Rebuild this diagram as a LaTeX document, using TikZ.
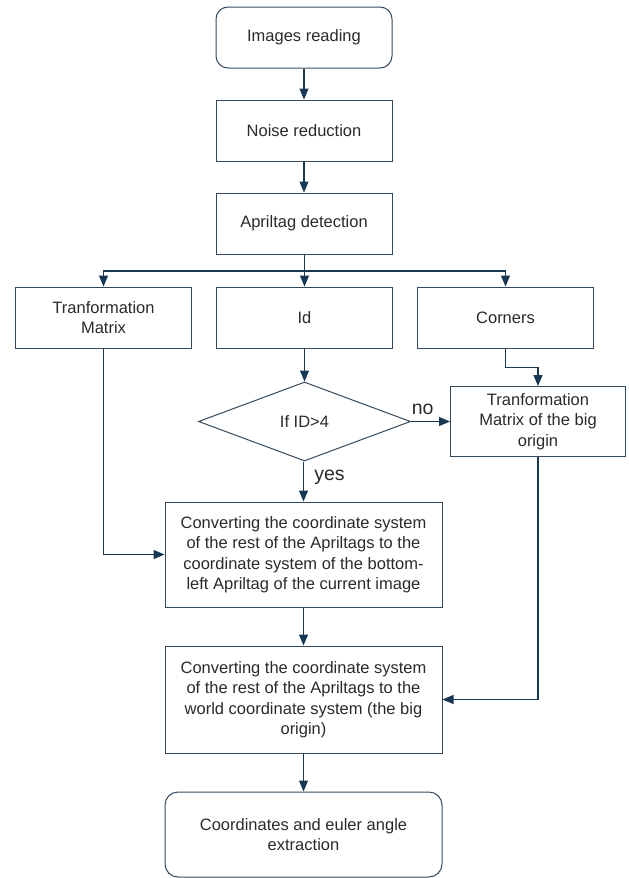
\documentclass[tikz,border=0pt]{standalone}
\usepackage{fontspec}
\setmainfont{Liberation Sans}
\usepackage{tikz}
\usetikzlibrary{shapes.geometric,arrows.meta}
\definecolor{edgecol}{HTML}{34495C}
\definecolor{arrcol}{HTML}{173753}
\definecolor{txtcol}{HTML}{2A2A2A}
\tikzset{
	box/.style={rectangle,draw=edgecol,line width=1pt,minimum width=176pt,minimum height=61pt,inner sep=2pt,align=center,text=txtcol,font=\fontsize{16.5}{20.5}\selectfont},
	rbox/.style={box,rounded corners=12pt},
	wbox/.style={box,minimum width=277pt},
	cond/.style={diamond,draw=edgecol,line width=1pt,minimum width=212pt,minimum height=79pt,inner sep=0pt,text=txtcol,font=\fontsize{16.5}{20.5}\selectfont},
	arr/.style={draw=arrcol,line width=1.1pt,-{Triangle[width=9pt,length=11pt]}},
	ln/.style={draw=arrcol,line width=1.1pt},
	lbl/.style={text=txtcol,font=\fontsize{19.5}{22}\selectfont}
}

\begin{document}
\begin{tikzpicture}[x=1pt,y=-1pt]%[scale=1.5]
						\useasboundingbox (0,0) rectangle (629,878);

						\node [rbox] (read) at (304,37.5) {Images reading};
						\node [box] (noise) at (304,130.5) {Noise reduction};
						\node [box] (detect) at (304,223.5) {Apriltag detection};

						\node [box] (tmat) at (103.5,317.5) {Tranformation\\Matrix};
						\node [box] (id) at (304.5,317.5) {Id};
						\node [box] (corners) at (505.5,317.5) {Corners};

						\node [cond] (ifid) at (304.5,421.5) {If ID>4};
						\node [box,minimum width=175pt,minimum height=70pt] (bigmat) at (538,421.5) {Tranformation\\Matrix of the big\\origin};

						\node [wbox,minimum height=105pt] (conv1) at (303.5,554.5) {Converting the coordinate system\\of the rest of the Apriltags to the\\coordinate system of the bottom-\\left Apriltag of the current image};
						\node [wbox,minimum height=107pt] (conv2) at (303.5,699.5) {Converting the coordinate system\\of the rest of the Apriltags to the\\world coordinate system (the big\\origin)};
						\node [wbox,rounded corners=13pt,minimum height=85pt] (final) at (303.5,834.5) {Coordinates and euler angle\\extraction};

						\coordinate (split) at (304.5,271);

						\draw [arr] (read) -- (noise);
						\draw [arr] (noise) -- (detect);
						\draw [ln] (detect.south -| split) -- (split);
						\draw [arr] (split) -| (tmat);
						\draw [arr] (split) -- (id);
						\draw [arr] (split) -| (corners);
						\draw [arr] (id) -- (ifid);
						\draw [arr] (corners.south) -- ++(0,19) -| (bigmat.north);
						\draw [arr] (ifid) -- node [lbl,above=3pt,pos=0.3] {no} (bigmat);
						\draw [arr] (ifid.south -| conv1.north) -- node [lbl,right=7pt,pos=0.4] {yes} (conv1.north);
						\draw [arr] (tmat.south) |- (conv1.west);
						\draw [arr] (conv1) -- (conv2);
						\draw [arr] (bigmat.south) |- (conv2.east);
						\draw [arr] (conv2) -- (final);
					\end{tikzpicture}
\end{document}
